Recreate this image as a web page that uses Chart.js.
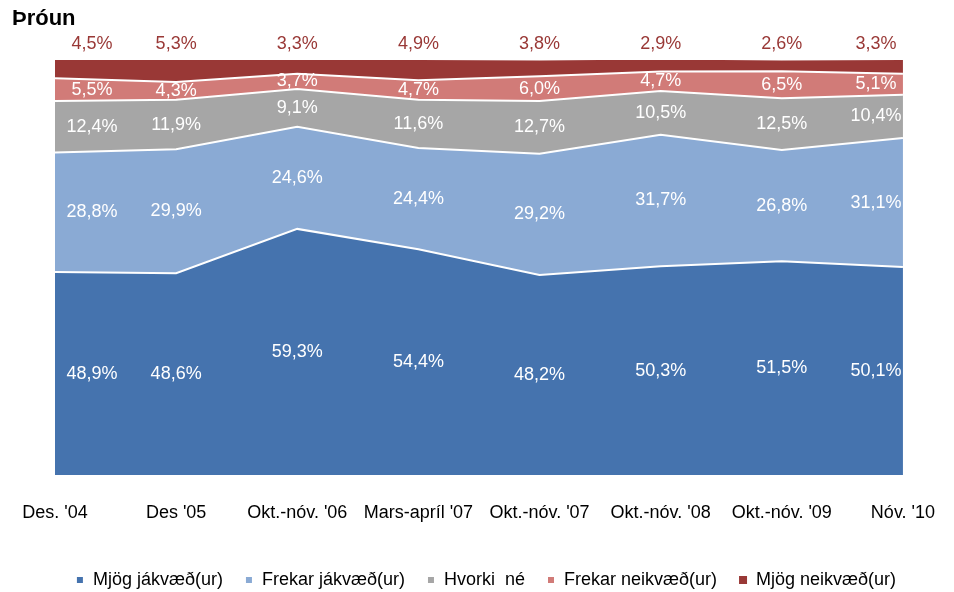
<!DOCTYPE html>
<html>
<head>
<meta charset="utf-8">
<script src="https://cdn.jsdelivr.net/npm/chart.js@4"></script>
<style>
html,body{margin:0;padding:0;background:#fff;}
#wrap{position:relative;width:954px;height:592px;}
</style>
</head>
<body>
<div id="wrap"><canvas id="c" width="954" height="592"></canvas></div>
<script>
const categories = ["Des. '04", "Des '05", "Okt.-nóv. '06", "Mars-apríl '07", "Okt.-nóv. '07", "Okt.-nóv. '08", "Okt.-nóv. '09", "Nóv. '10"];
const mjogJakvaed   = [48.9, 48.6, 59.3, 54.4, 48.2, 50.3, 51.5, 50.1];
const frekarJakvaed = [28.8, 29.9, 24.6, 24.4, 29.2, 31.7, 26.8, 31.1];
const hvorkiNe      = [12.4, 11.9, 9.1, 11.6, 12.7, 10.5, 12.5, 10.4];
const frekarNeikvaed= [5.5, 4.3, 3.7, 4.7, 6.0, 4.7, 6.5, 5.1];
const mjogNeikvaed  = [4.5, 5.3, 3.3, 4.9, 3.8, 2.9, 2.6, 3.3];
const seriesNames = ["Mjög jákvæð(ur)", "Frekar jákvæð(ur)", "Hvorki  né", "Frekar neikvæð(ur)", "Mjög neikvæð(ur)"];
const titleText = "Þróun";

const FONT = "'Liberation Sans Narrow', 'Arial Narrow', 'Liberation Sans', sans-serif";
const colors = ["#4573ae", "#8aaad4", "#a6a6a6", "#d17b78", "#993836"];
const seriesData = [mjogJakvaed, frekarJakvaed, hvorkiNe, frekarNeikvaed, mjogNeikvaed];

const datasets = seriesData.map((d, i) => ({
  label: seriesNames[i],
  data: d,
  backgroundColor: colors[i],
  borderColor: i === 4 ? colors[i] : "#ffffff",
  borderWidth: i === 4 ? 0 : 2,
  pointRadius: 0,
  pointHoverRadius: 0,
  tension: 0,
  fill: i === 0 ? 'origin' : '-1'
}));

const fmt = v => v.toFixed(1).replace('.', ',') + '%';

const labelPlugin = {
  id: 'areaLabels',
  afterLayout(chart) {
    const lg = chart.legend;
    if (lg) { lg.top += 7; lg.bottom += 7; lg.left += 9; lg.right += 9; }
  },
  afterDatasetsDraw(chart) {
    const ctx = chart.ctx;
    const xs = chart.scales.x, ys = chart.scales.y;
    const n = categories.length;
    ctx.save();
    ctx.font = "18px " + FONT;
    ctx.textAlign = 'center';
    ctx.textBaseline = 'middle';
    for (let j = 0; j < n; j++) {
      let cum = 0;
      let x = xs.getPixelForValue(j);
      if (j === 0) x += 37;
      if (j === n - 1) x -= 27;
      for (let i = 0; i < seriesData.length; i++) {
        const v = seriesData[i][j];
        let y;
        if (i === seriesData.length - 1) {
          y = chart.chartArea.top - 16;
          ctx.fillStyle = colors[4];
        } else {
          y = ys.getPixelForValue(cum + v / 2);
          ctx.fillStyle = '#ffffff';
        }
        ctx.fillText(fmt(v), x, y);
        cum += v;
      }
    }
    ctx.fillStyle = '#000';
    ctx.textAlign = 'left';
    ctx.font = "bold 22px 'Liberation Sans', Arial, sans-serif";
    ctx.fillText(titleText, 12, 19);
    ctx.restore();
  }
};

const hiddenAxis = (pos, w) => ({
  position: pos,
  display: true,
  ticks: { display: false },
  grid: { display: false },
  border: { display: false },
  afterFit(s) { s.width = w; }
});

new Chart(document.getElementById('c'), {
  type: 'line',
  data: { labels: categories, datasets },
  options: {
    responsive: false,
    animation: false,
    layout: { padding: { top: 60, left: 0, right: 0, bottom: 0 } },
    scales: {
      x: {
        offset: false,
        grid: { display: false },
        border: { display: false },
        ticks: { color: '#000', font: { family: FONT, size: 18 }, padding: 19, maxRotation: 0, autoSkip: false },
        afterFit(s) { s.height = 67; }
      },
      y: Object.assign(hiddenAxis('left', 55), { stacked: true, min: 0, max: 100 }),
      yR: Object.assign(hiddenAxis('right', 47), { min: 0, max: 100 })
    },
    plugins: {
      legend: {
        position: 'bottom',
        labels: {
          color: '#000',
          font: { family: FONT, size: 18 },
          boxWidth: 8,
          boxHeight: 8,
          padding: 22
        }
      },
      tooltip: { enabled: false }
    }
  },
  plugins: [labelPlugin]
});
</script>
</body>
</html>
